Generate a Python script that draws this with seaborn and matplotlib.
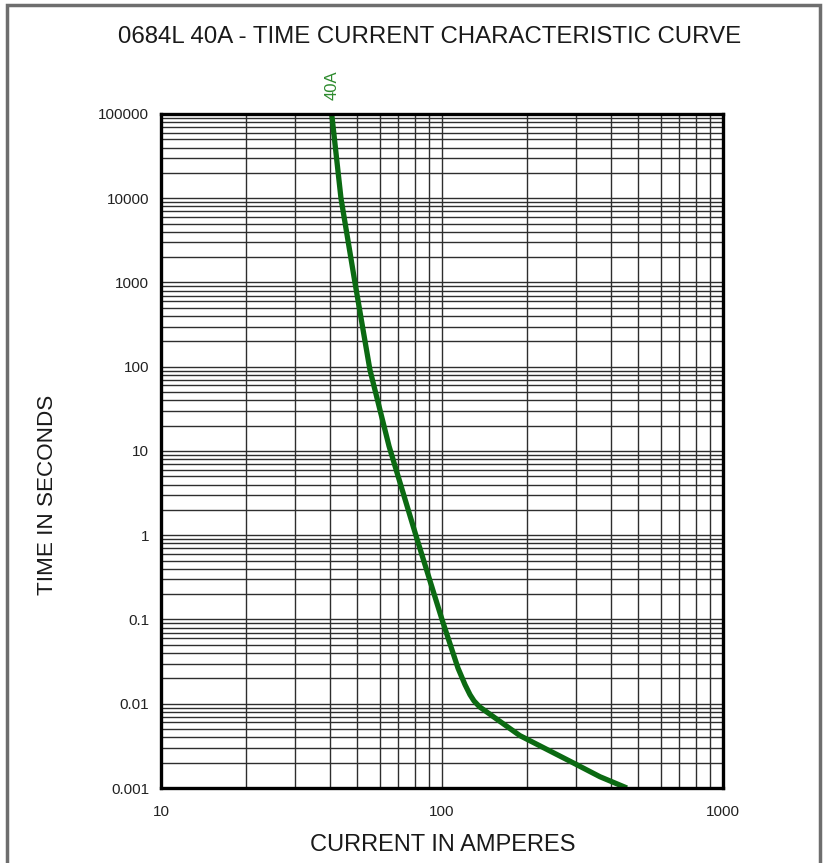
import matplotlib
matplotlib.use("Agg")
import matplotlib.pyplot as plt
import matplotlib.ticker as mticker
from matplotlib.patches import Rectangle
import seaborn as sns
import pandas as pd

# Data (current in A, time in s)
current_a = [40.5, 43.7, 49.0, 55.4, 64.8, 81.5, 100.0, 114.0, 120.8, 125.8, 130.0, 136.0, 189.0, 292.0, 365.0, 455.0]
time_s = [100000, 10000, 1000, 92, 11.4, 0.90, 0.10, 0.0265, 0.0168, 0.0128, 0.0108, 0.0092, 0.0042, 0.0020, 0.00136, 0.001]

x_ticks = [10, 100, 1000]
x_tick_labels = ["10", "100", "1000"]
y_ticks = [0.001, 0.01, 0.1, 1, 10, 100, 1000, 10000, 100000]
y_tick_labels = ["0.001", "0.01", "0.1", "1", "10", "100", "1000", "10000", "100000"]

title = "0684L 40A - TIME CURRENT CHARACTERISTIC CURVE"
curve_label = "40A"

sns.set_style("white")
plt.rcParams["font.family"] = ["Liberation Sans", "DejaVu Sans"]

fig = plt.figure(figsize=(8.26, 8.63), dpi=100)
ax = fig.add_axes([161 / 826, 1 - 788 / 863, (723 - 161) / 826, (788 - 114) / 863])

df = pd.DataFrame({"current": current_a, "time": time_s})
sns.lineplot(data=df, x="current", y="time", sort=False, ax=ax,
             color="#0b6a12", linewidth=3.8, solid_capstyle="butt", solid_joinstyle="round")

ax.set_xscale("log")
ax.set_yscale("log")
ax.set_xlim(10, 1000)
ax.set_ylim(0.001, 100000)

ax.xaxis.set_major_locator(mticker.FixedLocator(x_ticks))
ax.xaxis.set_major_formatter(mticker.FixedFormatter(x_tick_labels))
ax.yaxis.set_major_locator(mticker.FixedLocator(y_ticks))
ax.yaxis.set_major_formatter(mticker.FixedFormatter(y_tick_labels))
ax.xaxis.set_minor_locator(mticker.LogLocator(base=10, subs=range(2, 10), numticks=20))
ax.yaxis.set_minor_locator(mticker.LogLocator(base=10, subs=range(2, 10), numticks=20))
ax.xaxis.set_minor_formatter(mticker.NullFormatter())
ax.yaxis.set_minor_formatter(mticker.NullFormatter())

ax.grid(True, which="both", color="#2e2e2e", linewidth=1.0)
ax.tick_params(which="both", length=0)
ax.tick_params(axis="x", pad=12, labelsize=11, colors="#222222")
ax.tick_params(axis="y", pad=8.5, labelsize=11, colors="#222222")
for s in ax.spines.values():
    s.set_visible(True)
    s.set_color("black")
    s.set_linewidth(2.4)
ax.set_xlabel("")
ax.set_ylabel("")

fig.text(430 / 826, 1 - 37 / 863, title, ha="center", va="center", fontsize=17.3, color="#1a1a1a")
fig.text(443 / 826, 1 - 845 / 863, "CURRENT IN AMPERES", ha="center", va="center", fontsize=17, color="#1a1a1a")
fig.text(48 / 826, 1 - 495 / 863, "TIME IN SECONDS", ha="center", va="center", rotation=90, fontsize=16.2, color="#1a1a1a")
ax.annotate(curve_label, xy=(current_a[0], 100000), xycoords="data", xytext=(0, 14),
            textcoords="offset pixels", ha="center", va="bottom",
            rotation=90, fontsize=12, color="#2e8b2e", annotation_clip=False)

fig.patches.append(Rectangle((7 / 826, -0.05), (820 - 7) / 826, 1.05 - 5 / 863, transform=fig.transFigure,
                             fill=False, edgecolor="#6e6e6e", linewidth=2.5, clip_on=False))

fig.savefig("out.png", dpi=100)
